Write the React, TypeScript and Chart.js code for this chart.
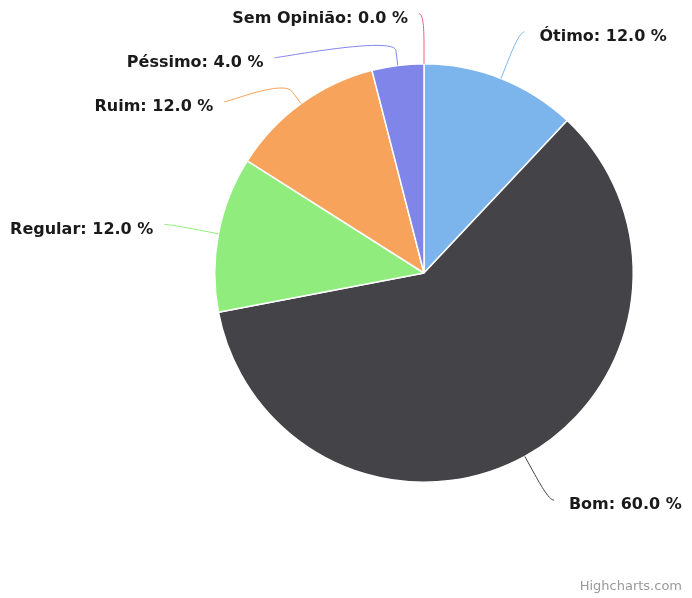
import React, { useEffect, useRef } from "react";
import { Chart, registerables } from "chart.js";

Chart.register(...registerables);

const categories = ["Ótimo", "Bom", "Regular", "Ruim", "Péssimo", "Sem Opinião"];
const values = [12.0, 60.0, 12.0, 12.0, 4.0, 0.0];
const sliceColors = ["#7cb5ec", "#434348", "#90ed7d", "#f7a35c", "#8085e9", "#f15c80"];
const creditText = "Highcharts.com";

const labelPlugin = {
  id: "hcLabels",
  afterDatasetsDraw(chart: any) {
    const ctx = chart.ctx;
    const meta = chart.getDatasetMeta(0);
    const ds = chart.data.datasets[0];
    const items = meta.data.map((arc: any, i: number) => {
      const p = arc.getProps(["x", "y", "startAngle", "endAngle", "outerRadius"], true);
      const mid = (p.startAngle + p.endAngle) / 2;
      const left = mid > Math.PI / 2;
      const R = p.outerRadius + 50;
      return { i, p, mid, left, R, y: p.y + R * Math.sin(mid) };
    });
    const G = 44;
    [true, false].forEach((side) => {
      const group = items.filter((it: any) => it.left === side).sort((a: any, b: any) => a.y - b.y);
      for (let k = 1; k < group.length; k++) {
        if (group[k].y < group[k - 1].y + G) group[k].y = group[k - 1].y + G;
      }
    });
    ctx.save();
    items.forEach((it: any) => {
      const { p, mid, left, R } = it;
      const s = left ? -1 : 1;
      const dy = it.y - p.y;
      const dx = Math.sqrt(Math.max(0, R * R - dy * dy));
      const x = p.x + s * dx;
      const y = it.y;
      const c = Math.cos(mid), sn = Math.sin(mid);
      const r = p.outerRadius;
      const ex = p.x + r * c, ey = p.y + r * sn;
      const bx = p.x + (r + 15) * c, by = p.y + (r + 15) * sn;
      const c1x = p.x + (r + 30) * c, c1y = p.y + (r + 30) * sn;
      ctx.beginPath();
      ctx.moveTo(ex, ey);
      ctx.lineTo(bx, by);
      ctx.bezierCurveTo(c1x, c1y, x, y, x + s * 5, y);
      ctx.strokeStyle = ds.backgroundColor[it.i];
      ctx.lineWidth = 1;
      ctx.stroke();

      const txt = `${categories[it.i]}: ${values[it.i].toFixed(1)} %`;
      ctx.font = "bold 16px 'DejaVu Sans'";
      ctx.textBaseline = "middle";
      ctx.fillStyle = "#1a1a1a";
      if (left) {
        ctx.textAlign = "right";
        ctx.fillText(txt, x - 16, y + 5);
      } else {
        ctx.textAlign = "left";
        ctx.fillText(txt, x + 20, y + 5);
      }
    });
    ctx.font = "13px 'DejaVu Sans'";
    ctx.fillStyle = "#999999";
    ctx.textAlign = "right";
    ctx.textBaseline = "alphabetic";
    ctx.fillText(creditText, 682, 590);
    ctx.restore();
  },
};

export default function App() {
  const ref = useRef<HTMLCanvasElement | null>(null);
  useEffect(() => {
    document.body.style.margin = "0";
    const chart = new Chart(ref.current as HTMLCanvasElement, {
      type: "pie",
      data: {
        labels: categories,
        datasets: [
          {
            data: values,
            backgroundColor: sliceColors,
            borderColor: "#ffffff",
            borderWidth: 1.5,
            hoverOffset: 0,
            offset: 0,
          },
        ],
      },
      options: {
        responsive: false,
        animation: false,
        events: [],
        layout: { padding: { left: 214, right: 58, top: 63, bottom: 115 } },
        plugins: {
          legend: { display: false },
          tooltip: { enabled: false },
          title: { display: false },
        },
      },
      plugins: [labelPlugin],
    });
    return () => chart.destroy();
  }, []);
  return (
    <div style={{ width: 692, height: 598, background: "#ffffff" }}>
      <canvas ref={ref} width={692} height={598} style={{ display: "block" }} />
    </div>
  );
}
